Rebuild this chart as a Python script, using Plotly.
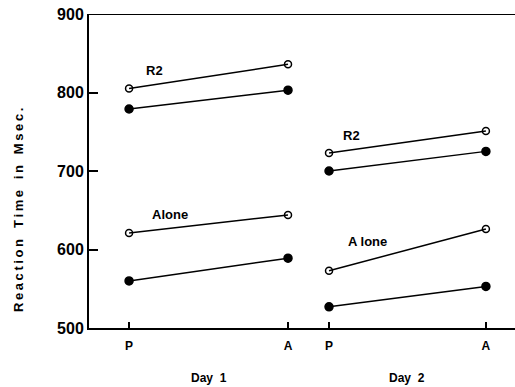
import plotly.graph_objects as go

# Data
conditions = ["P", "A", "P", "A"]
x_pos_day1 = [0.0, 1.0]
x_pos_day2 = [1.258, 2.245]
r2_open_day1 = [805, 836]
r2_filled_day1 = [779, 803]
alone_open_day1 = [621, 644]
alone_filled_day1 = [560, 589]
r2_open_day2 = [723, 751]
r2_filled_day2 = [700, 725]
alone_open_day2 = [573, 626]
alone_filled_day2 = [527, 553]
y_ticks = [500, 600, 700, 800, 900]

fig = go.Figure()

def add(xs, ys, filled):
    fig.add_trace(go.Scatter(
        x=xs, y=ys, mode="lines+markers",
        line=dict(color="black", width=1.5),
        marker=dict(symbol="circle" if filled else "circle-open",
                    size=8 if filled else 7, color="black",
                    line=dict(color="black", width=1.5)),
        showlegend=False, hoverinfo="skip"))

add(x_pos_day1, r2_open_day1, False)
add(x_pos_day1, r2_filled_day1, True)
add(x_pos_day1, alone_open_day1, False)
add(x_pos_day1, alone_filled_day1, True)
add(x_pos_day2, r2_open_day2, False)
add(x_pos_day2, r2_filled_day2, True)
add(x_pos_day2, alone_open_day2, False)
add(x_pos_day2, alone_filled_day2, True)

font = "Liberation Sans, Arial, sans-serif"

annots = [
    dict(x=0.16, y=828, text="R2"),
    dict(x=0.26, y=644, text="Alone"),
    dict(x=1.40, y=745, text="R2"),
    dict(x=1.50, y=610, text="A lone"),
]
for a in annots:
    fig.add_annotation(x=a["x"], y=a["y"], text=a["text"], showarrow=False,
                       font=dict(family=font, size=13, color="black", weight="bold"))

fig.add_annotation(x=0.5, y=0, xref="x", yref="paper", yshift=-50, text="Day  1",
                   yanchor="middle", showarrow=False,
                   font=dict(family=font, size=12, color="black", weight="bold"))
fig.add_annotation(x=1.75, y=0, xref="x", yref="paper", yshift=-50, text="Day  2",
                   yanchor="middle", showarrow=False,
                   font=dict(family=font, size=12, color="black", weight="bold"))

ts = "\u2009"
ytitle = "   ".join(ts.join(w) for w in ["Reaction", "Time", "in", "Msec."])
fig.add_annotation(x=-0.164, y=0.376, xref="paper", yref="paper", text=ytitle,
                   textangle=-90, showarrow=False, xanchor="center", yanchor="middle",
                   font=dict(family=font, size=13, color="black", weight="bold"))

# top frame line
fig.add_shape(type="line", xref="paper", yref="y", x0=0, x1=1, y0=900, y1=900,
              line=dict(color="black", width=2))

fig.update_layout(
    width=515, height=387,
    margin=dict(l=89, r=0, t=14, b=59),
    plot_bgcolor="white", paper_bgcolor="white",
    xaxis=dict(range=[-0.252, 2.428], tickvals=x_pos_day1 + x_pos_day2, ticktext=conditions,
               showgrid=False, zeroline=False, showline=True, linecolor="black", linewidth=2,
               ticks="inside", ticklen=6, tickcolor="black", tickwidth=1.5,
               ticklabelstandoff=6,
               tickfont=dict(family=font, size=12, color="black", weight="bold")),
    yaxis=dict(range=[500, 900], tickvals=y_ticks, showgrid=False, zeroline=False,
               showline=True, linecolor="black", linewidth=2,
               ticks="inside", ticklen=9, tickcolor="black", tickwidth=1.5,
               tickfont=dict(family=font, size=16, color="black", weight="bold")),
)

fig.write_html("out.html")
